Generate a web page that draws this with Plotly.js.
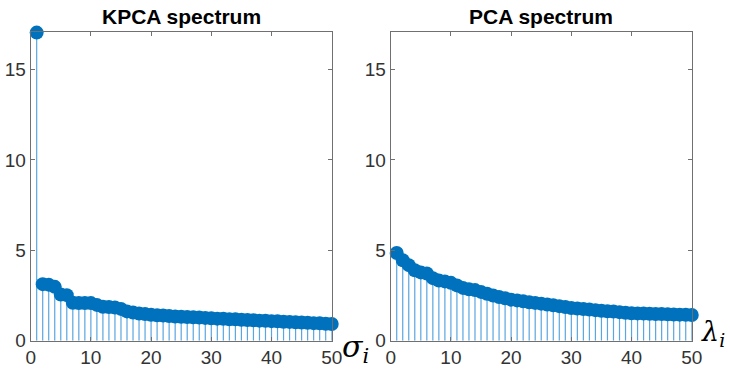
<!DOCTYPE html>
<html>
<head>
<meta charset="utf-8">
<script src="https://cdn.plot.ly/plotly-3.0.1.min.js"></script>
<style>html,body{margin:0;padding:0;background:#fff;}#chart{width:730px;height:371px;}</style>
</head>
<body>
<div id="chart"></div>
<script>
const index = Array.from({length: 50}, (_, i) => i + 1);
const kpcaValues = [17.05, 3.13, 3.1, 2.98, 2.55, 2.52, 2.1, 2.08, 2.08, 2.08, 1.98, 1.88, 1.86, 1.84, 1.76, 1.62, 1.56, 1.5, 1.47, 1.43,
  1.41, 1.39, 1.37, 1.34, 1.32, 1.31, 1.29, 1.28, 1.26, 1.24, 1.22, 1.21, 1.19, 1.18, 1.16, 1.14, 1.13, 1.11, 1.10, 1.08,
  1.07, 1.05, 1.04, 1.02, 1.00, 0.99, 0.97, 0.96, 0.94, 0.92];
const pcaValues = [4.85, 4.45, 4.18, 3.9, 3.78, 3.72, 3.46, 3.33, 3.28, 3.2, 3.06, 2.92, 2.84, 2.8, 2.7, 2.6, 2.5, 2.42, 2.35, 2.27,
  2.23, 2.18, 2.13, 2.09, 2.05, 2.0, 1.96, 1.91, 1.86, 1.81, 1.78, 1.75, 1.72, 1.69, 1.66, 1.63, 1.61, 1.58, 1.55, 1.52,
  1.51, 1.50, 1.49, 1.48, 1.47, 1.46, 1.45, 1.44, 1.43, 1.42];
const xTicks = [0, 10, 20, 30, 40, 50];
const yTicks = [0, 5, 10, 15];
const titles = ['KPCA spectrum', 'PCA spectrum'];
const axisLabels = ['<i>σ<sub>i</sub></i>', '<i>λ<sub>i</sub></i>'];

const blue = '#0072BD';
const stemBlue = '#5aa6e0';

function stems(vals, xa, ya) {
  const xs = [], ys = [];
  index.forEach((k, j) => { xs.push(k, k, null); ys.push(0, vals[j], null); });
  return {type: 'scatter', mode: 'lines', x: xs, y: ys, xaxis: xa, yaxis: ya, connectgaps: false,
    line: {color: stemBlue, width: 1.2}, hoverinfo: 'skip', showlegend: false};
}
function heads(vals, xa, ya) {
  return {type: 'scatter', mode: 'markers', x: index, y: vals, xaxis: xa, yaxis: ya, cliponaxis: false,
    marker: {color: blue, size: 14, line: {width: 0}}, showlegend: false};
}

const data = [stems(kpcaValues, 'x', 'y'), heads(kpcaValues, 'x', 'y'),
              stems(pcaValues, 'x2', 'y2'), heads(pcaValues, 'x2', 'y2')];

const tickFont = {family: 'Liberation Sans, Arial, sans-serif', size: 19, color: '#333333'};
function xax(domain, anchor) {
  return {domain: domain, anchor: anchor, range: [0, 50], tickvals: xTicks, ticks: 'inside', ticklen: 4,
    tickcolor: '#707070', showline: true, linecolor: '#707070', linewidth: 1, mirror: 'ticks',
    showgrid: false, zeroline: false, tickfont: tickFont, fixedrange: true};
}
function yax(anchor) {
  return {domain: [0.0817, 0.9146], anchor: anchor, range: [0, 17.1], tickvals: yTicks, ticks: 'inside', ticklen: 4,
    tickcolor: '#707070', showline: true, linecolor: '#707070', linewidth: 1, mirror: 'ticks',
    showgrid: false, zeroline: false, tickfont: tickFont, fixedrange: true};
}

const layout = {
  width: 730, height: 371, margin: {l: 0, r: 0, t: 0, b: 0},
  paper_bgcolor: '#fff', plot_bgcolor: '#fff',
  xaxis: xax([0.042, 0.4544], 'y'), yaxis: yax('x'),
  xaxis2: xax([0.5352, 0.9476], 'y2'), yaxis2: yax('x2'),
  annotations: [
    {text: '<b>' + titles[0] + '</b>', xref: 'paper', yref: 'paper', x: 0.2482, y: 0.955, showarrow: false,
     xanchor: 'center', yanchor: 'middle', font: {family: 'Liberation Sans, Arial, sans-serif', size: 21, color: '#000'}},
    {text: '<b>' + titles[1] + '</b>', xref: 'paper', yref: 'paper', x: 0.7414, y: 0.955, showarrow: false,
     xanchor: 'center', yanchor: 'middle', font: {family: 'Liberation Sans, Arial, sans-serif', size: 21, color: '#000'}},
    {text: axisLabels[0], xref: 'paper', yref: 'paper', x: 0.466, y: 0.06, showarrow: false, xanchor: 'left', yanchor: 'middle',
     font: {family: 'DejaVu Serif, serif', size: 30, color: '#000'}},
    {text: axisLabels[1], xref: 'paper', yref: 'paper', x: 0.958, y: 0.1, showarrow: false, xanchor: 'left', yanchor: 'middle',
     font: {family: 'DejaVu Serif, serif', size: 27, color: '#000'}}
  ]
};

Plotly.newPlot('chart', data, layout, {displayModeBar: false, staticPlot: true});
</script>
</body>
</html>
